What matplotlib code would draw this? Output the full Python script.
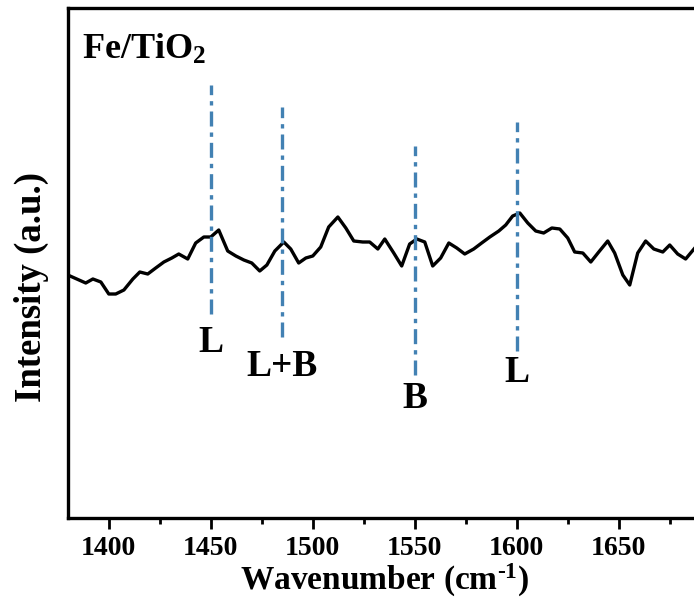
import numpy as np
import matplotlib
matplotlib.use('Agg')
import matplotlib.pyplot as plt
from matplotlib.ticker import MultipleLocator, NullLocator

# data
wavenumber = [1381, 1388.7, 1392.2, 1396.1, 1400, 1403.4, 1407.4, 1411.8, 1415.2, 1419.1,
              1423.0, 1427.0, 1430.9, 1434.3, 1438.7, 1442.6, 1446.6, 1450, 1453.9, 1458.3,
              1462.3, 1466.2, 1470.1, 1474.0, 1477.5, 1481.4, 1485.8, 1489.2, 1493.1, 1496.6,
              1500, 1503.9, 1507.8, 1512.3, 1516.2, 1520.1, 1524.5, 1527.9, 1531.9, 1535.3,
              1539.7, 1543.6, 1547.5, 1551.0, 1554.9, 1558.8, 1562.7, 1566.7, 1570.6, 1574.5,
              1578.9, 1582.8, 1586.8, 1591.2, 1594.6, 1598.0, 1601.5, 1605.4, 1609.3, 1613.2,
              1617.2, 1621.1, 1625, 1628.4, 1632.4, 1636.3, 1640.2, 1644.6, 1648.0, 1652.0,
              1655.4, 1659.3, 1663.2, 1667.2, 1671.6, 1675, 1678.9, 1682.8, 1687.3]
intensity = [242, 235, 239, 236, 224, 224, 228, 239, 246, 244,
             250, 256, 260, 264, 259, 275, 281, 281, 288, 267,
             262, 258, 255, 247, 253, 267, 276, 269, 255, 260,
             262, 271, 291, 301, 290, 277, 276, 276, 269, 279,
             265, 252, 274, 279, 276, 252, 260, 275, 270, 264,
             269, 275, 281, 287, 293, 302, 305, 295, 287, 285,
             290, 289, 280, 266, 265, 256, 266, 277, 265, 243,
             233, 265, 277, 269, 266, 273, 264, 259, 270]

# marker lines: position, bottom, top, label, label height
mark_pos = [1450, 1485, 1550, 1600]
mark_bottom = [204, 181, 143, 167]
mark_top = [433, 411, 372, 396]
mark_label = ['L', 'L+B', 'B', 'L']
label_y = [175, 151, 120, 145]

plt.rcParams['font.family'] = 'Liberation Serif'
plt.rcParams['font.weight'] = 'bold'
plt.rcParams['mathtext.fontset'] = 'custom'
plt.rcParams['mathtext.rm'] = 'Liberation Serif:bold'
plt.rcParams['mathtext.bf'] = 'Liberation Serif:bold'
plt.rcParams['mathtext.it'] = 'Liberation Serif:bold'

fig = plt.figure(figsize=(6.94, 6.08), dpi=100)
ax = fig.add_axes([68/694, 90/608, 1 - 68/694, 510/608])

ax.plot(wavenumber, intensity, color='black', lw=2.4)

for p, b, t, lab, ly in zip(mark_pos, mark_bottom, mark_top, mark_label, label_y):
    ax.plot([p, p], [b, t], color='#4281b3', lw=2.4, ls=(0, (4.5, 1.8, 1.3, 1.8)))
    ax.text(p, ly, lab, ha='center', va='center', fontsize=27, fontweight='bold')

ax.text(0.022, 0.9, r'Fe/TiO$_2$', transform=ax.transAxes, fontsize=26,
        fontweight='bold', ha='left', va='baseline')

ax.set_xlim(1380, 1686.9)
ax.set_ylim(0, 510)
ax.xaxis.set_major_locator(MultipleLocator(50))
ax.xaxis.set_minor_locator(MultipleLocator(25))
ax.yaxis.set_major_locator(NullLocator())
ax.yaxis.set_minor_locator(NullLocator())
ax.tick_params(axis='x', which='major', length=8, width=2, labelsize=20, pad=5)
ax.tick_params(axis='x', which='minor', length=4.5, width=2)
for lab in ax.get_xticklabels():
    lab.set_fontweight('bold')

for s in ['left', 'bottom', 'top']:
    ax.spines[s].set_linewidth(2.4)
ax.spines['right'].set_visible(False)

# axis titles
fig.text(385/694, 18/608, r'Wavenumber (cm$^{\text{-1}}$)', fontsize=24,
         fontweight='bold', ha='center', va='baseline')
fig.text(31/694, 1 - 287/608, 'Intensity (a.u.)', fontsize=26.5,
         fontweight='bold', ha='center', va='center', rotation=90)

fig.savefig('out.png', dpi=100)
